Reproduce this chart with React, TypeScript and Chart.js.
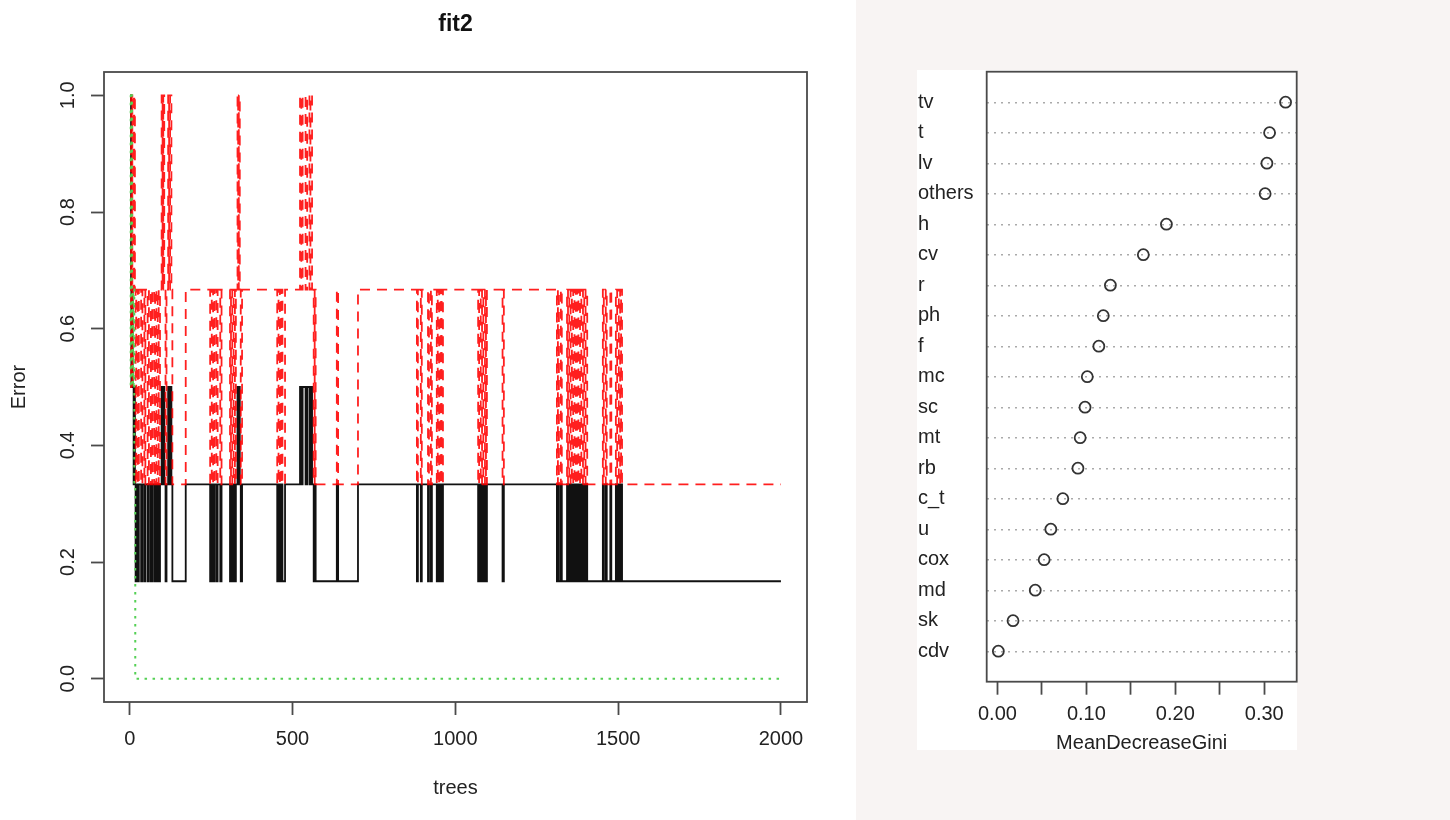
import React, { useEffect, useRef } from 'react';
import { Chart, registerables } from 'chart.js';

Chart.register(...registerables);

const FONT = '"Liberation Sans", Arial, Helvetica, sans-serif';

// ---------- Left panel: randomForest error rates (fit2) ----------
// [tree, error] change points; value holds until the next change point
const oobSteps: [number, number][] = [
  [1, 1], [4, 0.667], [5, 0.5], [8, 0.667], [9, 0.5], [12, 0.333], [14, 0.5], [16, 0.333], [18, 0.167], [20, 0.333],
  [25, 0.167], [28, 0.333], [35, 0.167], [39, 0.333], [45, 0.167], [48, 0.333], [55, 0.167], [59, 0.333], [65, 0.167], [69, 0.333], [75, 0.167], [78, 0.333], [82, 0.167], [86, 0.333], [89, 0.167], [93, 0.333],
  [98, 0.5], [101, 0.333], [103, 0.5], [106, 0.333], [110, 0.167], [113, 0.333], [118, 0.5], [121, 0.333], [124, 0.5], [128, 0.333], [131, 0.167],
  [172, 0.333], [247, 0.167], [252, 0.333], [256, 0.167], [260, 0.333], [266, 0.167], [270, 0.333], [278, 0.167], [282, 0.333],
  [308, 0.167], [311, 0.333], [315, 0.167], [319, 0.333], [323, 0.167], [326, 0.333], [331, 0.5], [333, 0.333], [335, 0.5], [338, 0.333], [341, 0.167], [345, 0.333],
  [453, 0.167], [457, 0.333], [461, 0.167], [465, 0.333], [469, 0.167], [477, 0.333],
  [523, 0.5], [527, 0.333], [531, 0.5], [540, 0.333], [545, 0.5], [552, 0.333], [555, 0.5], [560, 0.333], [565, 0.167], [568, 0.333], [571, 0.167],
  [636, 0.333], [640, 0.167], [701, 0.333],
  [882, 0.167], [885, 0.333], [894, 0.167], [897, 0.333], [916, 0.167], [919, 0.333], [925, 0.167], [928, 0.333], [943, 0.167], [946, 0.333], [950, 0.167], [955, 0.333], [958, 0.167], [962, 0.333],
  [1070, 0.167], [1073, 0.333], [1078, 0.167], [1082, 0.333], [1086, 0.167], [1091, 0.333], [1094, 0.167], [1097, 0.333], [1145, 0.167], [1149, 0.333],
  [1312, 0.167], [1315, 0.333], [1318, 0.167], [1324, 0.333], [1327, 0.167], [1343, 0.333], [1346, 0.167], [1350, 0.333], [1354, 0.167], [1358, 0.333], [1362, 0.167], [1366, 0.333], [1370, 0.167], [1374, 0.333], [1378, 0.167], [1383, 0.333], [1387, 0.167], [1392, 0.333], [1396, 0.167], [1400, 0.333], [1405, 0.167],
  [1453, 0.333], [1456, 0.167], [1462, 0.333], [1465, 0.167], [1476, 0.333], [1479, 0.167], [1493, 0.333], [1497, 0.167], [1502, 0.333], [1506, 0.167], [1509, 0.333], [1512, 0.167], [2000, 0.167],
];

const class1Steps: [number, number][] = [
  [1, 1], [4, 0.5], [5, 1], [8, 0.5], [9, 1], [12, 0.667], [14, 1], [16, 0.667], [18, 0.333], [20, 0.667],
  [25, 0.333], [28, 0.667], [35, 0.333], [39, 0.667], [45, 0.333], [48, 0.667], [55, 0.333], [59, 0.667], [65, 0.333], [69, 0.667], [75, 0.333], [78, 0.667], [82, 0.333], [86, 0.667], [89, 0.333], [93, 0.667],
  [98, 1], [101, 0.667], [103, 1], [106, 0.667], [110, 0.333], [113, 0.667], [118, 1], [121, 0.667], [124, 1], [128, 0.667], [131, 0.333],
  [172, 0.667], [247, 0.333], [252, 0.667], [256, 0.333], [260, 0.667], [266, 0.333], [270, 0.667], [278, 0.333], [282, 0.667],
  [308, 0.333], [311, 0.667], [315, 0.333], [319, 0.667], [323, 0.333], [326, 0.667], [331, 1], [333, 0.667], [335, 1], [338, 0.667], [341, 0.333], [345, 0.667],
  [453, 0.333], [457, 0.667], [461, 0.333], [465, 0.667], [469, 0.333], [477, 0.667],
  [523, 1], [527, 0.667], [531, 1], [540, 0.667], [545, 1], [552, 0.667], [555, 1], [560, 0.667], [565, 0.333], [568, 0.667], [571, 0.333],
  [636, 0.667], [640, 0.333], [701, 0.667],
  [882, 0.333], [885, 0.667], [894, 0.333], [897, 0.667], [916, 0.333], [919, 0.667], [925, 0.333], [928, 0.667], [943, 0.333], [946, 0.667], [950, 0.333], [955, 0.667], [958, 0.333], [962, 0.667],
  [1070, 0.333], [1073, 0.667], [1078, 0.333], [1082, 0.667], [1086, 0.333], [1091, 0.667], [1094, 0.333], [1097, 0.667], [1145, 0.333], [1149, 0.667],
  [1312, 0.333], [1315, 0.667], [1318, 0.333], [1324, 0.667], [1327, 0.333], [1343, 0.667], [1346, 0.333], [1350, 0.667], [1354, 0.333], [1358, 0.667], [1362, 0.333], [1366, 0.667], [1370, 0.333], [1374, 0.667], [1378, 0.333], [1383, 0.667], [1387, 0.333], [1392, 0.667], [1396, 0.333], [1400, 0.667], [1405, 0.333],
  [1453, 0.667], [1456, 0.333], [1462, 0.667], [1465, 0.333], [1476, 0.667], [1479, 0.333], [1493, 0.667], [1497, 0.333], [1502, 0.667], [1506, 0.333], [1509, 0.667], [1512, 0.333], [2000, 0.333],
];

const class2Steps: [number, number][] = [
  [1, 1], [3, 0.5], [5, 1], [7, 0.667], [10, 0.5], [12, 0.667], [14, 0.333], [17, 0], [2000, 0],
];

const treeTicks = [0, 500, 1000, 1500, 2000];
const errorTicks = [0, 0.2, 0.4, 0.6, 0.8, 1.0];
const errorTickLabels = ['0.0', '0.2', '0.4', '0.6', '0.8', '1.0'];

// ---------- Right panel: variable importance ----------
const variables = ['tv', 't', 'lv', 'others', 'h', 'cv', 'r', 'ph', 'f', 'mc', 'sc', 'mt', 'rb', 'c_t', 'u', 'cox', 'md', 'sk', 'cdv'];
const meanDecreaseGini = [0.324, 0.306, 0.303, 0.301, 0.190, 0.164, 0.127, 0.119, 0.114, 0.101, 0.0985, 0.093, 0.0905, 0.0735, 0.060, 0.0525, 0.0425, 0.0175, 0.001];
const giniTicks = [0, 0.05, 0.1, 0.15, 0.2, 0.25, 0.3];
const giniTickLabels = ['0.00', '', '0.10', '', '0.20', '', '0.30'];

const toPoints = (steps: [number, number][]) => steps.map(([x, y]) => ({ x, y }));

const leftDecor = {
  id: 'leftDecor',
  afterDraw(chart: any) {
    const { ctx, chartArea, scales } = chart;
    const { left, top, right, bottom } = chartArea;
    ctx.save();
    ctx.strokeStyle = '#4a4a4a';
    ctx.lineWidth = 1.8;
    ctx.strokeRect(left, top, right - left, bottom - top);
    ctx.fillStyle = '#222';
    ctx.font = `20px ${FONT}`;
    ctx.textAlign = 'center';
    ctx.textBaseline = 'middle';
    const y = scales.y;
    errorTicks.forEach((v, i) => {
      const py = y.getPixelForValue(v);
      ctx.save();
      ctx.translate(68, py);
      ctx.rotate(-Math.PI / 2);
      ctx.fillText(errorTickLabels[i], 0, 0);
      ctx.restore();
    });
    ctx.save();
    ctx.translate(19, (top + bottom) / 2);
    ctx.rotate(-Math.PI / 2);
    ctx.fillText('Error', 0, 0);
    ctx.restore();
    ctx.fillText('trees', (left + right) / 2, 788);
    ctx.font = `bold 23px ${FONT}`;
    ctx.fillStyle = '#111';
    ctx.fillText('fit2', (left + right) / 2, 25);
    ctx.restore();
  },
};

const rightDecor = {
  id: 'rightDecor',
  afterDraw(chart: any) {
    const { ctx, chartArea } = chart;
    const { left, top, right, bottom } = chartArea;
    ctx.save();
    ctx.strokeStyle = '#4a4a4a';
    ctx.lineWidth = 1.8;
    ctx.strokeRect(left, top, right - left, bottom - top);
    ctx.fillStyle = '#222';
    ctx.font = `20px ${FONT}`;
    ctx.textAlign = 'center';
    ctx.textBaseline = 'middle';
    ctx.fillText('MeanDecreaseGini', (left + right) / 2, 743);
    ctx.restore();
  },
};

export default function App() {
  const leftRef = useRef<HTMLCanvasElement>(null);
  const rightRef = useRef<HTMLCanvasElement>(null);

  useEffect(() => {
    const tickFont = { family: FONT, size: 20 };
    const left = new Chart(leftRef.current as HTMLCanvasElement, {
      type: 'line',
      data: {
        datasets: [
          {
            label: 'OOB',
            data: toPoints(oobSteps),
            borderColor: '#111',
            borderWidth: 1.8,
            pointRadius: 0,
            stepped: true,
            fill: false,
            order: 3,
          },
          {
            label: '1',
            data: toPoints(class1Steps),
            borderColor: 'rgba(255,0,0,0.88)',
            borderWidth: 1.8,
            borderDash: [10, 7],
            pointRadius: 0,
            stepped: true,
            fill: false,
            order: 2,
          },
          {
            label: '2',
            data: toPoints(class2Steps),
            borderColor: '#55d055',
            borderWidth: 2,
            borderDash: [2.5, 5.5],
            pointRadius: 0,
            stepped: true,
            fill: false,
            order: 1,
          },
        ],
      } as any,
      options: {
        responsive: false,
        animation: false,
        layout: { padding: { left: 0, top: 72, right: 49, bottom: 0 } },
        plugins: { legend: { display: false }, tooltip: { enabled: false } },
        scales: {
          x: {
            type: 'linear',
            bounds: 'data',
            min: -79,
            max: 2080,
            afterBuildTicks: (s: any) => { s.ticks = treeTicks.map((v) => ({ value: v })); },
            afterFit: (s: any) => { s.height = 118; },
            grid: { display: true, drawOnChartArea: false, drawTicks: true, tickLength: 13, tickColor: '#4a4a4a', tickWidth: 1.8 },
            border: { display: false },
            ticks: { font: tickFont, color: '#222', padding: 12, maxRotation: 0, autoSkip: false, callback: (v: any) => String(v) },
          },
          y: {
            type: 'linear',
            bounds: 'data',
            min: -0.04,
            max: 1.04,
            afterBuildTicks: (s: any) => { s.ticks = errorTicks.map((v) => ({ value: v })); },
            afterFit: (s: any) => { s.width = 104; },
            grid: { display: true, drawOnChartArea: false, drawTicks: true, tickLength: 13, tickColor: '#4a4a4a', tickWidth: 1.8 },
            border: { display: false },
            ticks: { display: false },
          },
        },
      } as any,
      plugins: [leftDecor],
    });

    const right = new Chart(rightRef.current as HTMLCanvasElement, {
      type: 'scatter',
      data: {
        datasets: [
          {
            label: 'MeanDecreaseGini',
            data: variables.map((_, i) => ({ x: meanDecreaseGini[i], y: i })),
            pointRadius: 5.5,
            pointBorderColor: '#333',
            pointBorderWidth: 1.8,
            pointBackgroundColor: 'rgba(0,0,0,0)',
            showLine: false,
            clip: false,
          },
        ],
      } as any,
      options: {
        responsive: false,
        animation: false,
        layout: { padding: { left: 61, top: 71.7, right: 153.3, bottom: 0 } },
        plugins: { legend: { display: false }, tooltip: { enabled: false } },
        scales: {
          x: {
            type: 'linear',
            bounds: 'data',
            min: -0.0121,
            max: 0.3365,
            afterBuildTicks: (s: any) => { s.ticks = giniTicks.map((v) => ({ value: v })); },
            afterFit: (s: any) => { s.height = 138.3; },
            grid: { display: true, drawOnChartArea: false, drawTicks: true, tickLength: 13, tickColor: '#4a4a4a', tickWidth: 1.8 },
            border: { display: false },
            ticks: {
              font: tickFont, color: '#222', padding: 8, maxRotation: 0, autoSkip: false,
              callback: (_v: any, i: number) => giniTickLabels[i],
            },
          },
          y: {
            type: 'linear',
            bounds: 'data',
            reverse: true,
            min: -1,
            max: 19,
            afterBuildTicks: (s: any) => { s.ticks = variables.map((_, i) => ({ value: i })); },
            afterFit: (s: any) => { s.width = 68.7; },
            grid: { display: true, drawOnChartArea: true, drawTicks: false, color: '#aaaaaa', lineWidth: 1.4 },
            border: { display: false, dash: [2, 5] },
            ticks: {
              font: tickFont, color: '#222', padding: 0, crossAlign: 'far', autoSkip: false,
              callback: (v: any) => variables[v],
            },
          },
        },
      } as any,
      plugins: [rightDecor],
    });

    return () => {
      left.destroy();
      right.destroy();
    };
  }, []);

  return (
    <div style={{ position: 'fixed', left: 0, top: 0, width: 1450, height: 820, background: '#ffffff', overflow: 'hidden' }}>
      <div style={{ position: 'absolute', left: 856, top: 0, width: 594, height: 820, background: '#f8f4f3' }} />
      <div style={{ position: 'absolute', left: 917, top: 70, width: 380, height: 680, background: '#ffffff' }} />
      <canvas ref={leftRef} width={856} height={820} style={{ position: 'absolute', left: 0, top: 0, width: 856, height: 820 }} />
      <canvas ref={rightRef} width={593} height={820} style={{ position: 'absolute', left: 857, top: 0, width: 593, height: 820 }} />
    </div>
  );
}
